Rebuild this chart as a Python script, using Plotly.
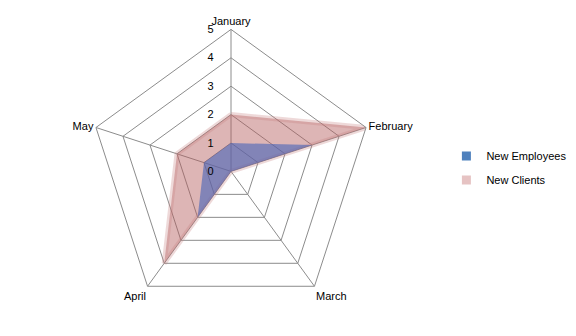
import plotly.graph_objects as go

categories = ["January", "February", "March", "April", "May"]
new_employees = [1, 3, 0, 2, 1]
new_clients = [2, 5, 0, 4, 2]
radial_ticks = [0, 1, 2, 3, 4, 5]

def closed(v):
    return list(v) + [v[0]]

fig = go.Figure()
fig.add_trace(go.Scatterpolar(
    r=closed(new_clients), theta=closed(categories), name="New Clients",
    fill="toself", fillcolor="rgba(180,90,90,0.45)",
    line=dict(color="rgba(200,130,130,0.3)", width=5),
    mode="lines", showlegend=False,
))
fig.add_trace(go.Scatterpolar(
    r=closed(new_employees), theta=closed(categories), name="New Employees",
    fill="toself", fillcolor="rgba(70,100,185,0.6)",
    line=dict(color="rgba(70,100,185,0.0)", width=0),
    mode="lines", showlegend=False,
))
# legend proxies (square swatches like the reference)
fig.add_trace(go.Scatterpolar(
    r=[None], theta=[None], name="New Employees", mode="markers",
    marker=dict(symbol="square", size=9, color="#4F81BD"),
    legendrank=1, legendgroup="a",
))
fig.add_trace(go.Scatterpolar(
    r=[None], theta=[None], name="New Clients", mode="markers",
    marker=dict(symbol="square", size=9, color="#E6C3C3"),
    legendrank=2, legendgroup="b",
))

grid = "#8c8c8c"
fig.update_layout(
    width=576, height=336,
    margin=dict(l=0, r=0, t=0, b=0),
    paper_bgcolor="white", plot_bgcolor="white",
    font=dict(family="Liberation Sans, Arial, sans-serif", size=11, color="black"),
    polar=dict(
        domain=dict(x=[0.1545, 0.6476], y=[0.0673, 0.9125]),
        gridshape="linear",
        bgcolor="white",
        radialaxis=dict(
            range=[0, 5], tickvals=radial_ticks, angle=90, tickangle=90,
            side="counterclockwise",
            showline=False, gridcolor=grid, gridwidth=1,
            ticks="outside", ticklen=13, tickcolor="rgba(0,0,0,0)",
            tickfont=dict(size=11),
        ),
        angularaxis=dict(
            direction="clockwise", rotation=90,
            showline=True, linecolor=grid, gridcolor=grid, gridwidth=1,
            ticks="", tickfont=dict(size=11),
        ),
    ),
    legend=dict(x=0.775, y=0.5, xanchor="left", yanchor="middle",
                font=dict(size=11), tracegroupgap=5, itemwidth=30),
    showlegend=True,
)

fig.write_html("out.html")
